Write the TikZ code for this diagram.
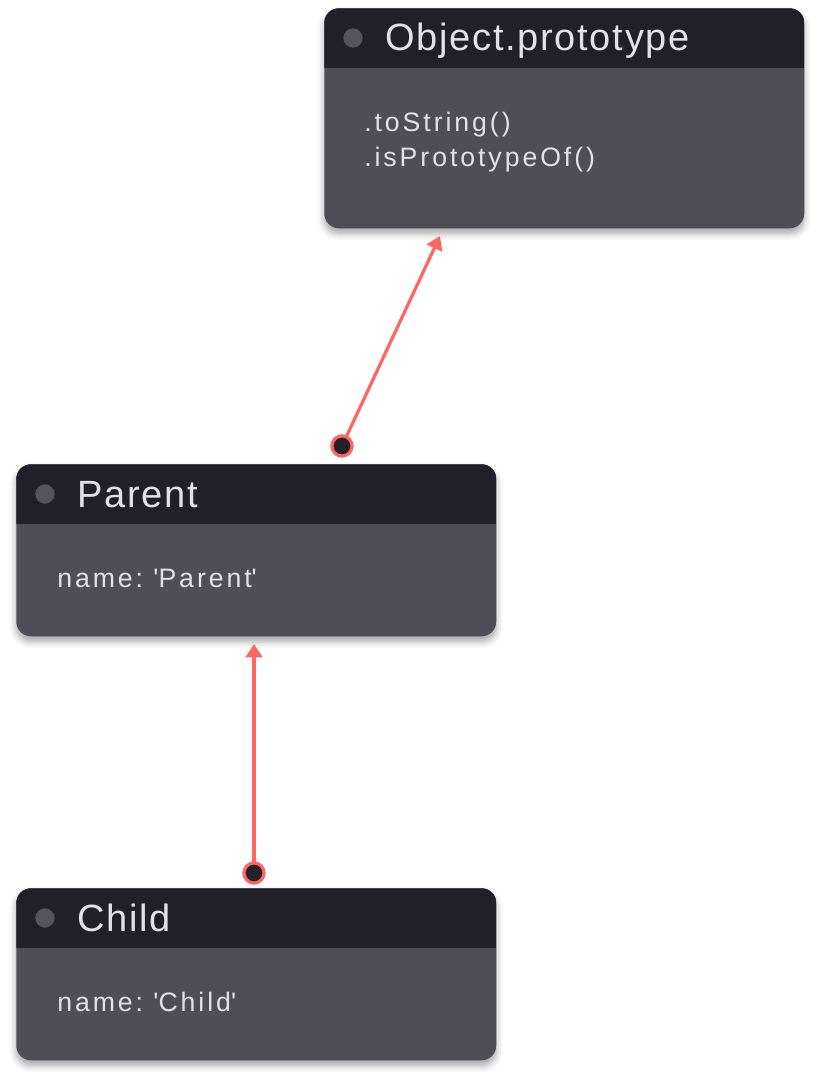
\documentclass[tikz,border=0pt]{standalone}
\usepackage{fontspec}
\setmainfont{Liberation Sans}
\newfontfamily\titlefont{Liberation Sans}[LetterSpace=4.5]
\newfontfamily\memberfont{Liberation Sans}[LetterSpace=11]
\usetikzlibrary{arrows.meta,shadows.blur}
\definecolor{hdrcol}{HTML}{212029}
\definecolor{bodycol}{HTML}{4F4E57}
\definecolor{txtcol}{HTML}{E2E1E6}
\definecolor{pipcol}{HTML}{55535E}
\definecolor{linkcol}{HTML}{FF6662}
\definecolor{endcol}{HTML}{23222B}
\frenchspacing

\begin{document}
\begin{tikzpicture}[
  x=0.75pt, y=-0.75pt,
  objbox/.style={rectangle, rounded corners=11pt, fill=bodycol,
    minimum width=360pt, inner sep=0pt, anchor=north west,
    blur shadow={shadow xshift=0pt, shadow yshift=-4pt,
      shadow blur radius=5pt, shadow opacity=35},
    path picture={\fill[hdrcol, sharp corners] (path picture bounding box.north west)
      rectangle ([yshift=-45pt]path picture bounding box.north east);}},
  pip/.style={circle, fill=pipcol, minimum size=14.5pt, inner sep=0pt},
  title/.style={anchor=base west, text=txtcol, inner sep=0pt,
    font=\titlefont\fontsize{28.5}{32}\selectfont},
  body/.style={anchor=base west, text=txtcol, align=left, inner sep=0pt,
    font=\memberfont\fontsize{20}{26.3}\selectfont},
  link/.style={draw=linkcol, line width=2.4pt, -{Triangle[length=10pt,width=12.5pt]}},
  dot/.style={circle, draw=linkcol, fill=endcol, line width=2.3pt,
    minimum size=15pt, inner sep=0pt},
]
\useasboundingbox (0,0) rectangle (820,1084);
% boxes
\node[objbox, minimum height=165pt] (objproto) at (324,8) {};
\node[objbox, minimum height=129pt] (parent) at (16,464) {};
\node[objbox, minimum height=129pt] (child) at (16,888) {};
% headers
\node[pip] (objproto-pip) at (353,38) {};
\node[title] (objproto-title) at (385,51) {Object.prototype};
\node[pip] (parent-pip) at (45,494) {};
\node[title] (parent-title) at (77,507) {Parent};
\node[pip] (child-pip) at (45,918) {};
\node[title] (child-title) at (77,931) {Child};
% members
\node[body] (objproto-body) at (364,167) {.toString()\\.isPrototypeOf()};
\node[body] (parent-body) at (57,587) {name: \textquotesingle Parent\textquotesingle};
\node[body] (child-body) at (57,1011) {name: \textquotesingle Child\textquotesingle};
% prototype links
\coordinate (objproto-in) at (440,236);
\coordinate (parent-in) at (254,644);
\node[dot] (parent-out) at (342,446) {};
\node[dot] (child-out) at (254,873) {};
\draw[link] (parent-out.center) -- (objproto-in);
\draw[link] (child-out.center) -- (parent-in);
\node[dot] at (parent-out) {};
\node[dot] at (child-out) {};
\end{tikzpicture}
\end{document}
